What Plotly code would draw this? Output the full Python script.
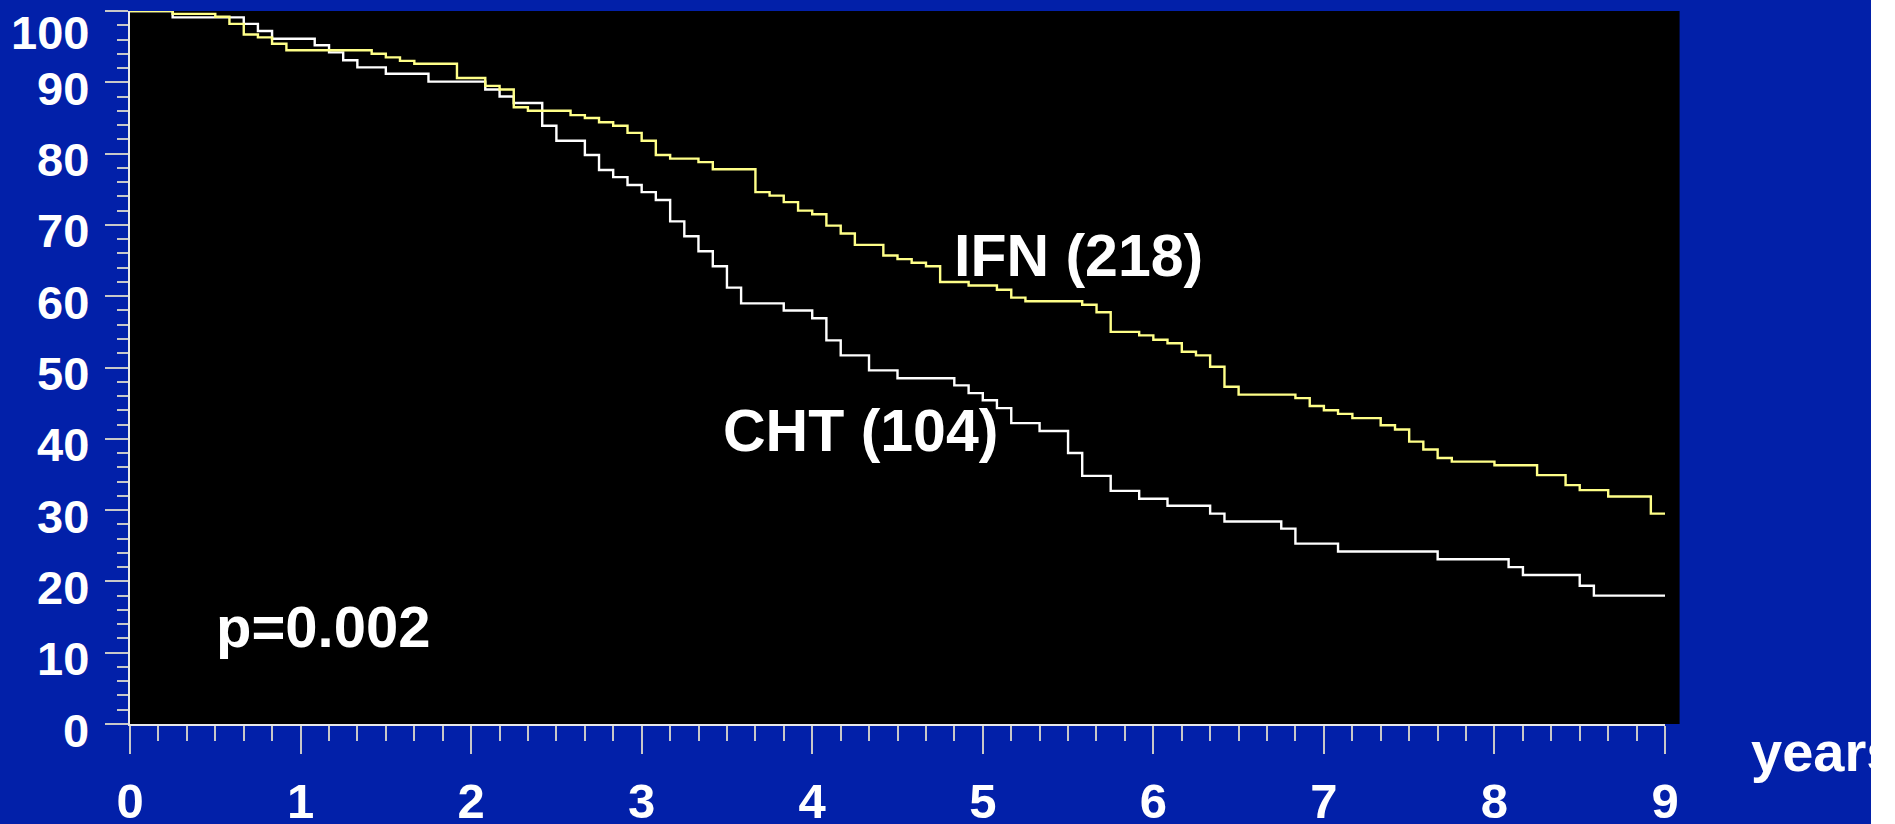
import plotly.graph_objects as go

# ---- data ----
ifn_times = [0.25, 0.5, 0.583, 0.667, 0.75, 0.833, 0.917, 1.417, 1.5, 1.583, 1.667, 1.917,
             2.083, 2.167, 2.25, 2.333, 2.583, 2.667, 2.75, 2.833, 2.917, 3.0, 3.083, 3.167,
             3.333, 3.417, 3.667, 3.75, 3.833, 3.917, 4.0, 4.083, 4.167, 4.25, 4.417, 4.5,
             4.583, 4.667, 4.75, 4.917, 5.083, 5.167, 5.25, 5.583, 5.667, 5.75, 5.917, 6.0,
             6.083, 6.167, 6.25, 6.333, 6.417, 6.5, 6.833, 6.917, 7.0, 7.083, 7.167, 7.333,
             7.417, 7.5, 7.583, 7.667, 7.75, 8.0, 8.25, 8.417, 8.5, 8.667, 8.917, 9.0]
ifn_surv = [99.6, 99.2, 98.2, 96.7, 96.3, 95.4, 94.5, 94.0, 93.5, 93.0, 92.6, 90.6,
            89.5, 89.0, 86.5, 86.0, 85.4, 85.0, 84.4, 83.9, 82.9, 81.8, 79.8, 79.3,
            78.8, 77.8, 74.6, 74.1, 73.2, 72.0, 71.5, 69.9, 68.8, 67.2, 65.7, 65.2,
            64.7, 64.2, 62.0, 61.5, 60.9, 59.8, 59.3, 58.8, 57.75, 55.0, 54.5, 53.9,
            53.4, 52.2, 51.7, 50.1, 47.3, 46.2, 45.7, 44.6, 44.0, 43.5, 42.9, 41.9,
            41.3, 39.6, 38.5, 37.3, 36.8, 36.3, 34.9, 33.5, 32.8, 31.9, 29.5, 29.5]

cht_times = [0.25, 0.667, 0.75, 0.833, 1.083, 1.167, 1.25, 1.333, 1.5, 1.75, 2.083, 2.167,
             2.25, 2.417, 2.5, 2.667, 2.75, 2.833, 2.917, 3.0, 3.083, 3.167, 3.25, 3.333,
             3.417, 3.5, 3.583, 3.833, 4.0, 4.083, 4.167, 4.333, 4.5, 4.833, 4.917, 5.0,
             5.083, 5.167, 5.333, 5.5, 5.583, 5.75, 5.917, 6.083, 6.333, 6.417, 6.75, 6.833,
             7.083, 7.667, 8.083, 8.167, 8.5, 8.583, 9.0]
cht_surv = [99.1, 98.2, 97.2, 96.1, 95.2, 94.2, 93.1, 92.1, 91.2, 90.1, 89.0, 88.0,
            87.1, 83.9, 81.8, 79.8, 77.7, 76.7, 75.6, 74.6, 73.5, 70.5, 68.4, 66.3,
            64.2, 61.2, 59.0, 58.0, 56.9, 53.8, 51.7, 49.6, 48.5, 47.5, 46.4, 45.4,
            44.3, 42.2, 41.1, 38.0, 34.8, 32.7, 31.6, 30.6, 29.5, 28.4, 27.4, 25.3,
            24.2, 23.1, 22.0, 20.9, 19.4, 18.0, 18.0]

start_time = 0
start_surv = 100
x_ticks = [0, 1, 2, 3, 4, 5, 6, 7, 8, 9]
y_ticks = [0, 10, 20, 30, 40, 50, 60, 70, 80, 90, 100]
ifn_label = "IFN (218)"
cht_label = "CHT (104)"
p_label = "p=0.002"
x_title = "years"

BLUE = "#0220A9"
YELLOW = "#FFFF88"
AXIS = "#E8E8E8"
TICK = "#C8C8C8"
FONT = "Liberation Sans, Arial, sans-serif"

fig = go.Figure()
fig.add_trace(go.Scatter(x=[start_time] + cht_times, y=[start_surv] + cht_surv,
                         mode="lines", line=dict(color="white", width=2.4, shape="hv"),
                         name=cht_label, showlegend=False))
fig.add_trace(go.Scatter(x=[start_time] + ifn_times, y=[start_surv] + ifn_surv,
                         mode="lines", line=dict(color=YELLOW, width=2.4, shape="hv"),
                         name=ifn_label, showlegend=False))

# black plot area continues a little past the end of the x axis
fig.add_shape(type="rect", xref="paper", yref="paper", x0=1, x1=1.0095, y0=0, y1=1,
              fillcolor="black", line=dict(width=0), layer="below")

# y tick labels as annotations (the 100 label sits lower, as in the reference)
for v in y_ticks:
    fig.add_annotation(xref="paper", yref="y", x=0, y=v, xanchor="right", yanchor="middle",
                       xshift=-39, yshift=(-21 if v == 100 else -6), showarrow=False,
                       text=str(v), font=dict(family=FONT, size=47, color="white", weight="bold"))

fig.add_annotation(x=5.563, y=65.6, text=ifn_label, showarrow=False,
                   font=dict(family=FONT, size=59, color="white", weight="bold"))
fig.add_annotation(x=4.285, y=41.1, text=cht_label, showarrow=False,
                   font=dict(family=FONT, size=59, color="white", weight="bold"))
fig.add_annotation(x=1.134, y=13.7, text=p_label, showarrow=False,
                   font=dict(family=FONT, size=58, color="white", weight="bold"))
fig.add_annotation(xref="paper", yref="paper", x=1.0548, y=-0.039, xanchor="left",
                   yanchor="middle", text=x_title, showarrow=False,
                   font=dict(family=FONT, size=56, color="white", weight="bold"))

fig.update_layout(
    width=1871, height=824,
    margin=dict(l=130, r=206, t=11, b=100, pad=0, autoexpand=False),
    paper_bgcolor=BLUE, plot_bgcolor="black",
    showlegend=False,
    xaxis=dict(range=[0, 9], tickvals=x_ticks, ticktext=[str(v) for v in x_ticks],
               showgrid=False, zeroline=False, showline=True, linecolor=AXIS, linewidth=2,
               ticks="outside", ticklen=28, tickwidth=2, tickcolor=TICK,
               minor=dict(dtick=1/6, ticks="outside", ticklen=15, tickwidth=2, tickcolor=TICK,
                          showgrid=False),
               tickfont=dict(family=FONT, size=49, color="white", weight="bold"),
               ticklabelstandoff=5, automargin=False, fixedrange=True),
    yaxis=dict(range=[0, 100], tickvals=y_ticks, showticklabels=False,
               showgrid=False, zeroline=False, showline=True, linecolor=AXIS, linewidth=2,
               ticks="outside", ticklen=23, tickwidth=2, tickcolor=TICK,
               minor=dict(dtick=2, ticks="outside", ticklen=11, tickwidth=2, tickcolor=TICK,
                          showgrid=False),
               automargin=False, fixedrange=True),
)

fig.write_html("out.html", config={"displayModeBar": False},
               post_script="document.body.style.margin='0';document.body.style.background='white';")
